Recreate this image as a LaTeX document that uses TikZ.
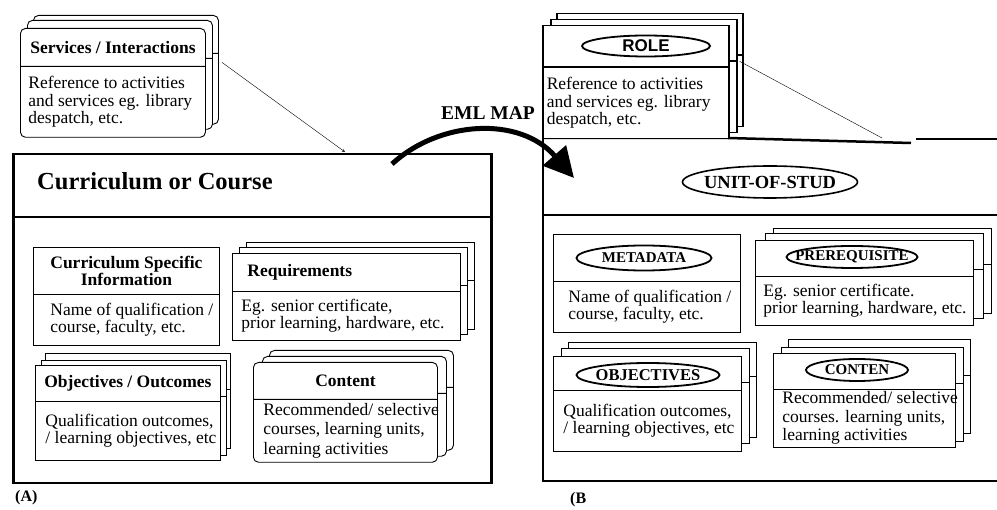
\documentclass[tikz,border=0pt]{standalone}
\usepackage{fontspec}
\setmainfont{Liberation Serif}
\newfontfamily\rolefont{Liberation Sans}
\usepackage{tikz}
\usetikzlibrary{shapes.geometric, shapes.multipart, shadows, arrows, arrows.meta, calc, positioning}
\newcommand{\hd}[3]{\parbox[c][#1][c]{#2}{\centering\bfseries #3}}
\newcommand{\bd}[4]{\parbox[c][#1][c]{#2}{\raggedright\leftskip=#3\relax #4}}
\newcommand{\tagtext}[1]{\makebox[0pt]{#1}}
\tikzstyle{card} = [rectangle split, rectangle split parts=2, draw=black, fill=white, line width=0.9pt, inner sep=0pt, anchor=north west, font=\fontsize{17.5}{17.5}\selectfont]
\tikzstyle{tag} = [ellipse, draw=black, line width=1.8pt, fill=white, inner sep=0pt, font=\bfseries\fontsize{15}{15}\selectfont]
\tikzstyle{bigbox} = [rectangle, draw=black, line width=2.5pt, inner sep=0pt, anchor=north west]
\tikzstyle{bigline} = [line width=2.5pt]
\tikzstyle{caption} = [inner sep=0pt, font=\bfseries\fontsize{16}{16}\selectfont]
\tikzstyle{arrow} = [thin, ->, >=stealth]
\tikzstyle{maparrow} = [line width=5pt, -{Triangle[length=30pt,width=30pt]}]

\begin{document}
\begin{tikzpicture}[x=1pt, y=-1pt]
	\useasboundingbox (0,0) rectangle (997,510);
	% (A) curriculum or course
	\node (boxA) [bigbox, minimum width=478pt, minimum height=329pt] at (12,153) {};
	\draw [bigline] (boxA.west |- 0,217) -- (boxA.east |- 0,217);
	\node (titleA) [anchor=west, inner sep=0pt, font=\bfseries\fontsize{24.5}{24.5}\selectfont] at (37,181) {Curriculum or Course};
	\node (svc) [card, rounded corners=5pt, copy shadow={shadow xshift=13pt, shadow yshift=13pt}, copy shadow={shadow xshift=7pt, shadow yshift=8pt}] at (20,28) {\hd{37pt}{185pt}{Services / Interactions}\nodepart{two}\bd{70pt}{185pt}{8pt}{Reference to activities\\and services eg. library\\despatch, etc.}};
	\node (csi) [card] at (33,247) {\hd{46pt}{186pt}{Curriculum Specific\\Information}\nodepart{two}\bd{50pt}{186pt}{17pt}{Name of qualification /\\course, faculty, etc.}};
	\node (req) [card, copy shadow={shadow xshift=14pt, shadow yshift=11pt}, copy shadow={shadow xshift=7pt, shadow yshift=6pt}] at (232,253) {\hd{37pt}{228pt}{\raggedright\hspace*{15pt}Requirements}\nodepart{two}\bd{48pt}{228pt}{9pt}{Eg. senior certificate,\\prior learning, hardware, etc.}};
	\node (obj) [card, copy shadow={shadow xshift=10pt, shadow yshift=12pt}, copy shadow={shadow xshift=6pt, shadow yshift=5pt}] at (35,365) {\hd{35pt}{185pt}{Objectives / Outcomes}\nodepart{two}\bd{58pt}{185pt}{10pt}{Qualification outcomes,\\/ learning objectives, etc}};
	\node (cont) [card, rounded corners=5pt, copy shadow={shadow xshift=16pt, shadow yshift=12pt}, copy shadow={shadow xshift=9pt, shadow yshift=6pt}] at (253,362) {\hd{36pt}{184pt}{Content}\nodepart{two}\bd{62pt}{184pt}{10pt}{\fontsize{17.5}{19.5}\selectfont\mbox{Recommended/ selective}\\courses, learning units,\\learning activities}};
	\coordinate (svcIn) at (345,152);
	\draw [arrow] ([xshift=16pt, yshift=4pt]svc.one split east) -- (svcIn);
	\node (capA) [caption, below right=6pt and 3pt of boxA.south west] {(A)};
	% (B) unit of study
	\coordinate (bTL) at (543,138);
	\coordinate (bTM) at (728,138);
	\coordinate (bTG) at (911,143);
	\coordinate (bTR) at (916,139);
	\coordinate (bTE) at (1000,139);
	\coordinate (bBL) at (543,481);
	\coordinate (bBE) at (1000,481);
	\draw [bigline] (bTL) -- (bTM) -- (bTG);
	\draw [bigline] (bTR) -- (bTE);
	\draw [bigline] (bTL) -- (bBL) -- (bBE);
	\draw [bigline] (bTL |- 0,215) -- (bBE |- 0,215);
	\node (unit) [tag, line width=1.6pt, font=\bfseries\fontsize{18.5}{18.5}\selectfont, minimum width=175pt, minimum height=32pt] at (770,182) {\tagtext{UNIT-OF-STUD}};
	\node (role) [card, line width=1.5pt, copy shadow={shadow xshift=14pt, shadow yshift=12pt}, copy shadow={shadow xshift=8pt, shadow yshift=6pt}] at (542,25) {\hd{40pt}{186pt}{}\nodepart{two}\bd{70pt}{186pt}{4pt}{Reference to activities\\and services eg. library\\despatch, etc.}};
	\node (roleTag) [tag, font=\rolefont\bfseries\fontsize{17}{17}\selectfont, minimum width=128pt, minimum height=21pt] at (646,46) {\tagtext{ROLE}};
	\node (meta) [card] at (553,234) {\hd{46pt}{187pt}{}\nodepart{two}\bd{50pt}{187pt}{15pt}{Name of qualification /\\course, faculty, etc.}};
	\node (metaTag) [tag, minimum width=135pt, minimum height=25pt] at (644,258) {\tagtext{METADATA}};
	\node (pre) [card, copy shadow={shadow xshift=18pt, shadow yshift=12pt}, copy shadow={shadow xshift=10pt, shadow yshift=7pt}] at (755,240) {\hd{35pt}{218pt}{}\nodepart{two}\bd{48pt}{218pt}{8pt}{Eg. senior certificate.\\prior learning, hardware, etc.}};
	\node (preTag) [tag, minimum width=131pt, minimum height=22pt] at (852,257) {\tagtext{PREREQUISITE}};
	\node (objB) [card, copy shadow={shadow xshift=15pt, shadow yshift=14pt}, copy shadow={shadow xshift=8pt, shadow yshift=8pt}] at (553,356) {\hd{33pt}{188pt}{}\nodepart{two}\bd{60pt}{188pt}{10pt}{Qualification outcomes,\\/ learning objectives, etc}};
	\node (objTag) [tag, font=\bfseries\fontsize{16.5}{16.5}\selectfont, minimum width=143pt, minimum height=24pt] at (648,375) {\tagtext{OBJECTIVES}};
	\node (contB) [card, copy shadow={shadow xshift=15pt, shadow yshift=14pt}, copy shadow={shadow xshift=8pt, shadow yshift=6pt}] at (773,353) {\hd{35pt}{182pt}{}\nodepart{two}\bd{57pt}{182pt}{9pt}{\fontsize{17.5}{18.5}\selectfont\mbox{Recommended/ selective}\\courses. learning units,\\learning activities}};
	\node (contTag) [tag, minimum width=102pt, minimum height=22pt] at (857,370) {\tagtext{CONTEN}};
	\coordinate (roleIn) at (882,138);
	\draw [thin] ([xshift=10pt, yshift=6pt]role.one split east) -- (roleIn);
	\node (capB) [caption, anchor=west] at (570,500) {(B};
	% EML map
	\coordinate (mapStart) at (392,164);
	\coordinate (mapEnd) at (574,178);
	\draw [maparrow] (mapStart) .. controls (440,120) and (520,116) .. (mapEnd);
	\node (mapLabel) [inner sep=0pt, font=\bfseries\fontsize{19.5}{19.5}\selectfont] at (488,113) {EML MAP};
\end{tikzpicture}
\end{document}
